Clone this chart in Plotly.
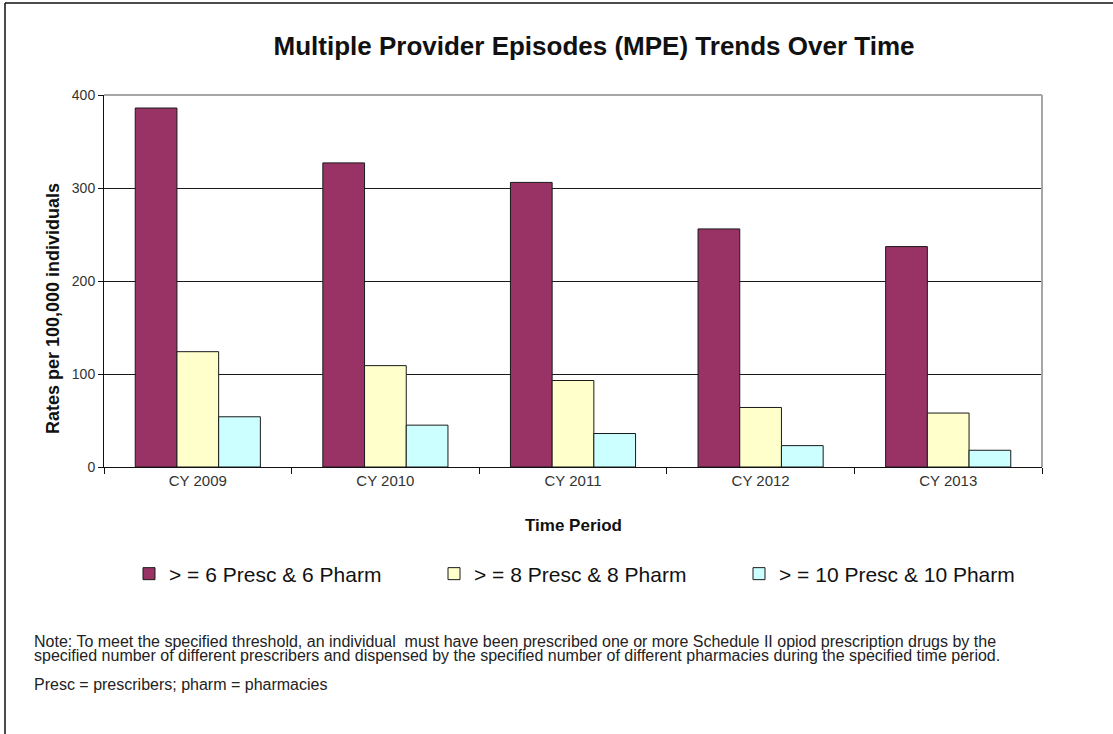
import plotly.graph_objects as go

categories = ["CY 2009", "CY 2010", "CY 2011", "CY 2012", "CY 2013"]
series_names = ["> = 6 Presc & 6 Pharm", "> = 8 Presc & 8 Pharm", "> = 10 Presc & 10 Pharm"]
presc6 = [386, 327, 306, 256, 237]
presc8 = [124, 109, 93, 64, 58]
presc10 = [54, 45, 36, 23, 18]
y_ticks = [0, 100, 200, 300, 400]

colors = ["#993366", "#FFFFCC", "#CCFFFF"]
FONT = "Arial, Liberation Sans, sans-serif"

W, H = 1113, 734
L, R, T, B = 104, 1042, 95, 467
pw, ph = R - L, B - T

def px(x):
    return (x - L) / pw

def py(y):
    return (B - y) / ph

fig = go.Figure()
for name, vals, c in zip(series_names, [presc6, presc8, presc10], colors):
    fig.add_trace(go.Bar(
        x=categories, y=vals, name=name,
        marker=dict(color=c, line=dict(color="#1a1a1a", width=1)),
    ))

fig.update_layout(
    width=W, height=H,
    margin=dict(l=L, r=W - R, t=T, b=H - B, autoexpand=False),
    paper_bgcolor="white", plot_bgcolor="white",
    barmode="group", bargap=0.333, bargroupgap=0,
    font=dict(family=FONT, color="#222"),
    title=dict(text="<b>Multiple Provider Episodes (MPE) Trends Over Time</b>",
               x=594 / W, xanchor="center", y=1 - 46 / H, yanchor="middle",
               font=dict(size=26, color="#111", family=FONT)),
    showlegend=True,
    legend=dict(orientation="h", x=px(129), xanchor="left", y=py(574), yanchor="middle",
                font=dict(size=21, color="#111", family=FONT),
                entrywidth=260, entrywidthmode="pixels",
                bgcolor="rgba(0,0,0,0)", traceorder="normal"),
    xaxis=dict(showline=True, linecolor="#111", linewidth=1, ticks="outside",
               tickson="boundaries", ticklen=6, tickcolor="#111",
               tickfont=dict(size=15, color="#333"), showgrid=False, fixedrange=True),
    yaxis=dict(range=[0, 400], tickvals=y_ticks, showline=True, linecolor="#111",
               linewidth=1, ticks="outside", ticklen=5, tickcolor="#111",
               tickfont=dict(size=14, color="#333"), showgrid=True,
               gridcolor="#1a1a1a", gridwidth=1, zeroline=False, fixedrange=True),
)

annotations = [
    dict(text="<b>Rates per 100,000 individuals</b>", x=px(53), y=py(309),
         textangle=-90, font=dict(size=18, color="#111")),
    dict(text="<b>Time Period</b>", x=px(573), y=py(525),
         font=dict(size=17, color="#111")),
    dict(text="Note: To meet the specified threshold, an individual  must have been prescribed one or more Schedule II opiod prescription drugs by the",
         x=px(32), y=py(641), xanchor="left", font=dict(size=16, color="#222")),
    dict(text="specified number of different prescribers and dispensed by the specified number of different pharmacies during the specified time period.",
         x=px(32), y=py(655), xanchor="left", font=dict(size=16, color="#222")),
    dict(text="Presc = prescribers; pharm = pharmacies",
         x=px(32), y=py(684), xanchor="left", font=dict(size=16, color="#222")),
]
for a in annotations:
    a.update(xref="paper", yref="paper", showarrow=False, yanchor="middle",
             xanchor=a.get("xanchor", "center"))
    fig.add_annotation(**a)

# plot frame (top & right in gray) and outer picture frame (left & top)
fig.add_shape(type="line", xref="paper", yref="paper", x0=0, x1=1, y0=1, y1=1,
              line=dict(color="#a6a6a6", width=2), layer="above")
fig.add_shape(type="line", xref="paper", yref="paper", x0=1, x1=1, y0=0, y1=1,
              line=dict(color="#a6a6a6", width=2), layer="above")
fig.add_shape(type="line", xref="paper", yref="paper", x0=px(5), x1=px(5),
              y0=py(H + 10), y1=py(3), line=dict(color="#111", width=1.5))
fig.add_shape(type="line", xref="paper", yref="paper", x0=px(5), x1=px(W + 10),
              y0=py(3), y1=py(3), line=dict(color="#111", width=1.5))

fig.write_html("out.html", config={"displayModeBar": False},
               post_script="document.body.style.margin='0';document.body.style.overflow='hidden';")
